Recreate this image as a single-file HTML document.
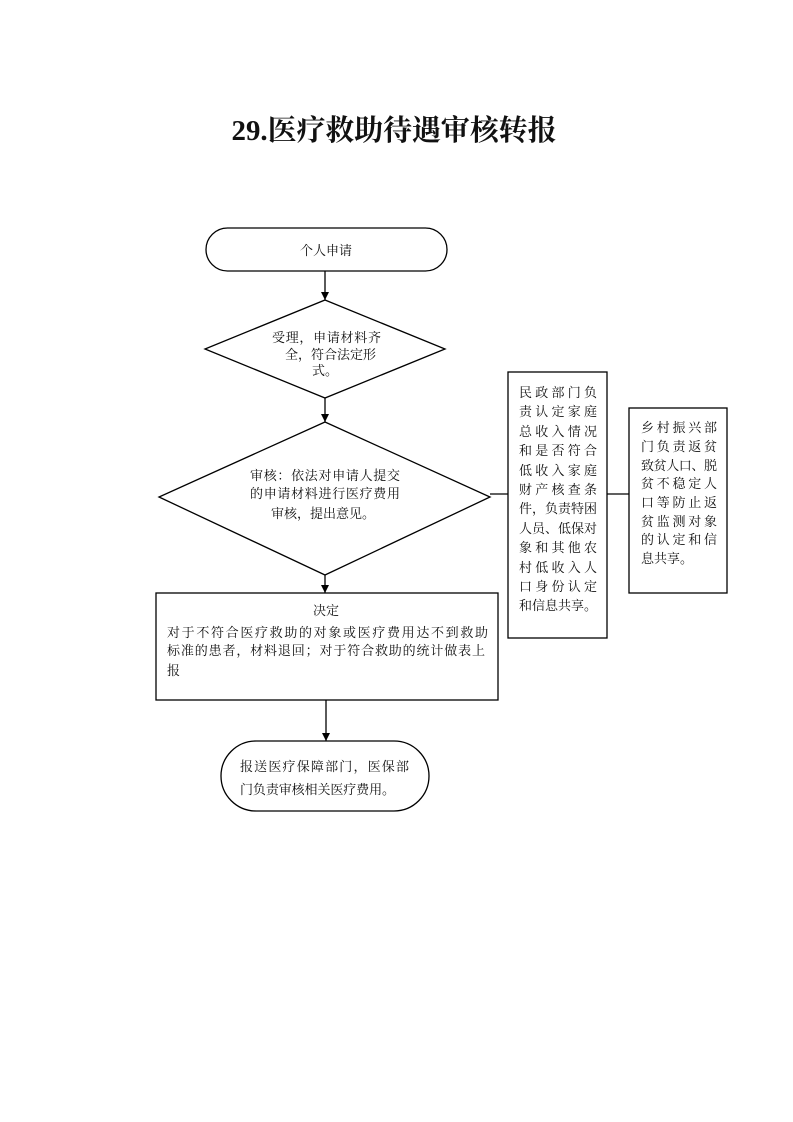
<!DOCTYPE html>
<html><head><meta charset="utf-8"><style>
html,body{margin:0;padding:0;background:#fff;}
svg{display:block}
text{font-family:"Liberation Serif","Noto Serif CJK SC","Noto Sans CJK SC",serif;fill:#111;font-size:13px}
</style></head><body>
<svg width="793" height="1122" viewBox="0 0 793 1122" xmlns="http://www.w3.org/2000/svg">
<defs><marker id="a" markerWidth="8" markerHeight="8" refX="8" refY="4" orient="auto" markerUnits="userSpaceOnUse"><path d="M0,0 L8,4 L0,8 z" fill="#000"/></marker></defs>
<text x="394" y="140" text-anchor="middle" style="font-size:29px;font-weight:bold" textLength="325" lengthAdjust="spacingAndGlyphs">29.医疗救助待遇审核转报</text>
<g fill="none" stroke="#000" stroke-width="1.3">
<rect x="206" y="228" width="241" height="43" rx="21.5"/>
<polygon points="325,300 445,349 325,398 205,349"/>
<polygon points="325,422 490,497 325,575 159,497"/>
<rect x="156" y="593" width="342" height="107"/>
<rect x="221" y="741" width="208" height="70" rx="35"/>
<rect x="508" y="372" width="99" height="266"/>
<rect x="629" y="408" width="98" height="185"/>
<line x1="490" y1="494" x2="508" y2="494"/>
<line x1="607" y1="494" x2="629" y2="494"/>
<line x1="325" y1="271" x2="325" y2="300" marker-end="url(#a)"/>
<line x1="325" y1="398" x2="325" y2="422" marker-end="url(#a)"/>
<line x1="325" y1="575" x2="325" y2="593" marker-end="url(#a)"/>
<line x1="326" y1="700" x2="326" y2="741" marker-end="url(#a)"/>
</g>
<text x="326" y="255" text-anchor="middle">个人申请</text>
<text x="272" y="342" textLength="109">受理，申请材料齐</text>
<text x="285" y="359">全，符合法定形</text>
<text x="312" y="375">式。</text>
<text x="250" y="480" textLength="150">审核：依法对申请人提交</text>
<text x="250" y="498" textLength="150">的申请材料进行医疗费用</text>
<text x="271" y="518">审核，提出意见。</text>
<text x="326" y="615" text-anchor="middle">决定</text>
<text x="167" y="637" textLength="321">对于不符合医疗救助的对象或医疗费用达不到救助</text>
<text x="167" y="655" textLength="318">标准的患者，材料退回；对于符合救助的统计做表上</text>
<text x="167" y="675">报</text>
<text x="240" y="771" textLength="169">报送医疗保障部门，医保部</text>
<text x="240" y="794" textLength="155">门负责审核相关医疗费用。</text>
<g>
<text x="519" y="397" textLength="78">民政部门负</text>
<text x="519" y="416" textLength="78">责认定家庭</text>
<text x="519" y="436" textLength="78">总收入情况</text>
<text x="519" y="455" textLength="78">和是否符合</text>
<text x="519" y="475" textLength="78">低收入家庭</text>
<text x="519" y="494" textLength="78">财产核查条</text>
<text x="519" y="513" textLength="78">件，负责特困</text>
<text x="519" y="533" textLength="78">人员、低保对</text>
<text x="519" y="552" textLength="78">象和其他农</text>
<text x="519" y="572" textLength="78">村低收入人</text>
<text x="519" y="591" textLength="78">口身份认定</text>
<text x="519" y="610">和信息共享。</text>
<text x="641" y="432" textLength="76">乡村振兴部</text>
<text x="641" y="451" textLength="76">门负责返贫</text>
<text x="641" y="470" textLength="76">致贫人口、脱</text>
<text x="641" y="488" textLength="76">贫不稳定人</text>
<text x="641" y="507" textLength="76">口等防止返</text>
<text x="641" y="526" textLength="76">贫监测对象</text>
<text x="641" y="544" textLength="76">的认定和信</text>
<text x="641" y="563">息共享。</text>
</g>
</svg>
</body></html>
